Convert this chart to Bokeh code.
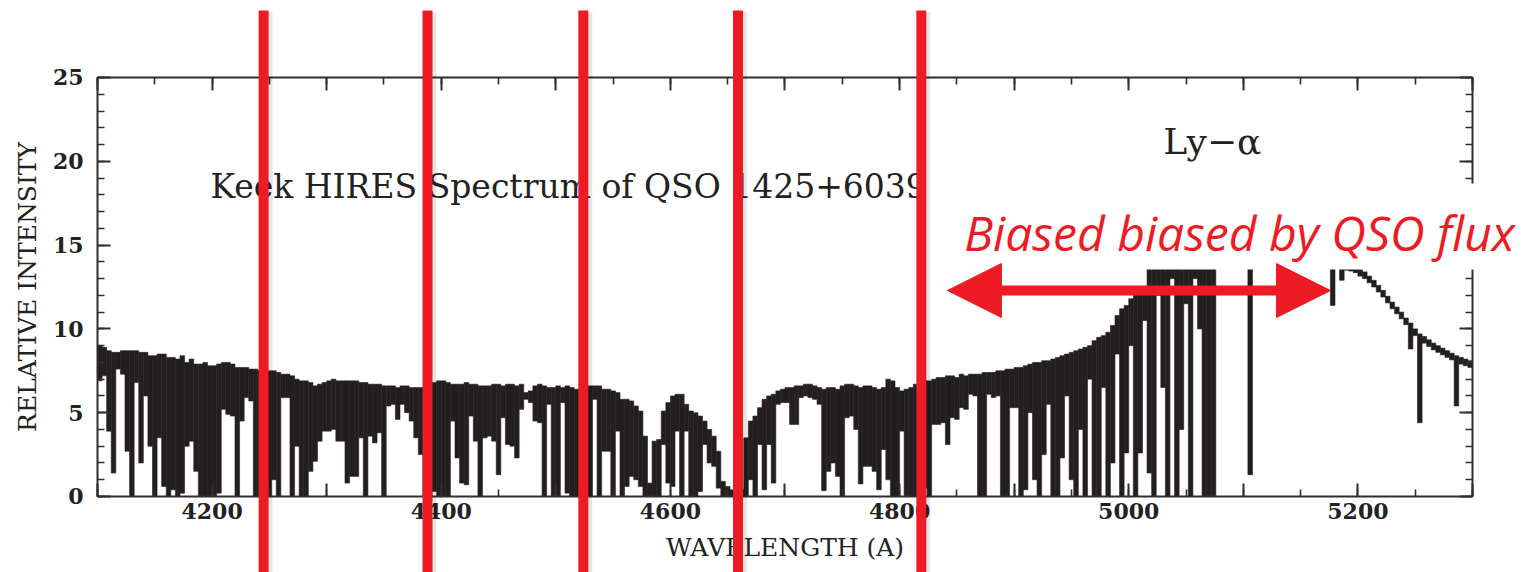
import numpy as np
from bokeh.plotting import figure
from bokeh.models import (Range1d, LinearAxis, FixedTicker, Label, Arrow,
                          NormalHead, BoxAnnotation, ColumnDataSource)
from bokeh.embed import file_html
from bokeh.resources import INLINE

# ---- spectrum: min / max relative intensity in 4 A bins from 4100 A ----
WL_START = 4100
BIN_WIDTH = 4

flux_hi = [
    9.0, 8.9, 8.7, 8.6, 8.6, 8.7, 8.7, 8.7, 8.7, 8.6, 8.6, 8.4, 8.4, 8.5, 8.5, 8.3, 8.3, 8.2, 8.4, 8.0, 8.2, 7.9, 7.9, 8.0, 7.8,
    7.8, 7.9, 8.0, 8.0, 7.9, 7.7, 7.7, 7.7, 7.6, 7.6, 7.5, 7.5, 7.5, 7.5, 7.4, 7.3, 7.3, 7.2, 7.0, 6.9, 6.9, 6.8, 6.6, 6.7, 6.8,
    6.9, 7.0, 6.9, 6.9, 6.9, 6.9, 6.9, 6.8, 6.8, 6.7, 6.7, 6.7, 6.6, 6.6, 6.6, 6.5, 6.6, 6.6, 6.5, 6.5, 6.5, 6.5, 6.6, 6.8, 6.9,
    6.9, 6.8, 6.7, 6.7, 6.7, 6.8, 6.7, 6.7, 6.6, 6.6, 6.6, 6.7, 6.7, 6.6, 6.7, 6.7, 6.6, 6.7, 6.2, 6.3, 6.6, 6.7, 6.6, 6.5, 6.5,
    6.6, 6.5, 6.6, 6.5, 6.4, 6.4, 6.5, 6.6, 6.6, 6.6, 6.4, 6.4, 6.3, 6.2, 5.8, 5.8, 5.7, 5.4, 5.1, 3.6, 0.8, 3.3, 3.4, 5.1, 5.6,
    6.0, 6.1, 6.1, 5.5, 5.1, 5.0, 4.8, 4.5, 4.0, 3.6, 2.7, 0.9, 0.6, 0.4, 0.3, 0.4, 3.5, 4.5, 4.8, 5.3, 5.8, 6.0, 6.1, 6.3, 6.4,
    6.5, 6.5, 6.6, 6.6, 6.7, 6.7, 6.6, 6.5, 6.4, 6.5, 6.5, 6.4, 6.6, 6.7, 6.7, 6.6, 6.5, 6.6, 6.6, 6.5, 6.4, 6.5, 7.0, 6.9, 6.5,
    6.3, 6.4, 6.5, 6.7, 6.8, 6.9, 6.9, 7.0, 7.1, 7.1, 7.2, 7.2, 7.1, 7.3, 7.2, 7.3, 7.3, 7.3, 7.4, 7.4, 7.4, 7.5, 7.5, 7.6, 7.6,
    7.7, 7.7, 7.8, 7.9, 8.0, 8.0, 8.1, 8.1, 8.2, 8.3, 8.4, 8.5, 8.6, 8.7, 8.8, 8.9, 9.0, 9.3, 9.5, 9.6, 9.8, 10.2, 10.8, 11.2, 11.4,
    11.8, 12.0, 12.2, 12.3, 13.9, 14.6, 15.0, 15.4, 15.8, 16.2, 16.5, 16.8, 17.0, 17.2, 17.3, 17.4, 17.4, 17.5, 17.4, 17.4, 17.3, 17.2, 17.1, 17.0, 16.9,
    16.8, 16.7, 16.6, 16.5, 16.4, 16.2, 16.0, 15.9, 15.7, 15.5, 15.3, 15.1, 14.9, 14.7, 14.6, 14.5, 14.4, 14.3, 14.2, 14.1, 14.0, 13.9, 13.85, 13.75, 13.65,
    13.55, 13.4, 13.15, 12.9, 12.6, 12.3, 11.95, 11.6, 11.3, 11.0, 10.65, 10.35, 10.0, 9.7, 9.55, 9.35, 9.15, 9.0, 8.85, 8.7, 8.55, 8.4, 8.3, 8.2, 8.1,
]

flux_lo = [
    6.9, 7.2, 3.9, 1.4, 7.6, 7.3, 2.7, 0.0, 6.8, 2.0, 6.0, 3.0, 0.0, 3.5, 0.6, 0.0, 0.4, 0.0, 0.2, 3.0, 3.3, 1.5, 0.0, 0.0, 0.0,
    0.0, 0.2, 5.2, 4.9, 4.8, 0.0, 4.5, 5.9, 5.7, 0.0, 0.0, 0.5, 0.0, 1.0, 0.0, 5.9, 5.9, 0.0, 3.0, 0.0, 0.0, 1.5, 2.1, 3.3, 3.9,
    3.9, 4.0, 3.3, 3.3, 0.8, 1.2, 1.2, 3.5, 0.0, 3.6, 3.2, 3.8, 0.0, 5.4, 5.5, 4.6, 5.5, 5.0, 4.5, 3.5, 2.5, 0.0, 0.0, 0.3, 0.0,
    0.0, 0.0, 4.5, 2.3, 0.8, 0.7, 4.8, 3.3, 0.0, 3.5, 3.6, 3.3, 1.3, 4.7, 3.1, 3.0, 2.3, 5.2, 5.8, 5.6, 4.5, 4.4, 0.0, 5.5, 0.0,
    0.0, 5.6, 0.2, 0.0, 0.0, 0.0, 0.0, 0.0, 5.8, 0.0, 2.7, 2.7, 0.0, 3.9, 0.0, 0.6, 1.2, 1.0, 0.6, 0.0, 0.0, 0.0, 0.0, 3.1, 0.8,
    0.6, 3.9, 0.0, 3.9, 0.0, 0.0, 0.3, 3.1, 2.0, 1.8, 0.5, 0.0, 0.0, 0.0, 0.0, 0.0, 0.0, 1.0, 0.0, 3.1, 0.4, 3.1, 0.8, 5.5, 5.6,
    5.6, 4.3, 4.3, 5.9, 6.0, 5.9, 5.8, 5.5, 0.35, 1.5, 2.0, 1.2, 0.0, 4.7, 4.8, 4.0, 0.75, 1.8, 1.8, 1.5, 0.4, 2.8, 1.0, 0.0, 0.0,
    3.9, 0.0, 0.0, 0.0, 0.0, 0.5, 0.0, 4.3, 4.3, 4.4, 3.1, 4.7, 4.6, 5.3, 5.2, 6.1, 6.0, 0.0, 0.0, 6.1, 5.9, 6.0, 0.0, 0.0, 5.3,
    5.3, 0.0, 0.4, 5.0, 1.0, 0.0, 2.5, 5.5, 0.0, 0.0, 2.3, 6.0, 1.0, 0.0, 4.0, 0.0, 7.0, 0.0, 0.0, 6.5, 0.0, 2.0, 8.5, 0.0, 2.6,
    9.0, 0.0, 2.6, 10.5, 1.4, 0.0, 12.0, 6.5, 0.0, 13.0, 0.0, 4.0, 11.5, 0.0, 13.0, 10.0, 0.0, 0.0, 0.0, 14.0, 14.5, 15.0, 15.0, 14.6, 14.3,
    14.0, 1.3, 14.2, 14.2, 14.4, 14.3, 14.1, 14.0, 14.2, 14.1, 14.0, 14.2, 14.0, 14.0, 13.9, 13.8, 13.8, 13.8, 13.8, 11.4, 13.7, 12.9, 13.5, 13.45, 13.35,
    13.15, 13.0, 12.75, 12.5, 12.2, 11.9, 11.55, 11.2, 10.9, 10.6, 10.25, 8.8, 9.6, 4.4, 9.15, 8.95, 8.75, 8.6, 8.45, 8.3, 8.15, 5.4, 7.9, 7.8, 7.7,
]

# axis ticks
x_major_ticks = list(range(4100, 5301, 100))
x_minor_ticks = list(range(4100, 5301, 50))
x_tick_labels = {4200: "4200", 4400: "4400", 4600: "4600", 4800: "4800", 5000: "5000", 5200: "5200"}
y_major_ticks = [0, 5, 10, 15, 20, 25]
y_minor_ticks = list(range(0, 26))

# wavelengths of the marked absorption systems
marker_wavelengths = [4245, 4388, 4524, 4659, 4819]

# annotation texts
title_text = "Keek HIRES Spectrum of QSO 1425+6039"
line_text = "Ly\u2212\u03b1"
note_text = "Biased biased by QSO flux"

RED = "#ed1c24"
INK = "#231f20"
AXIS = "#2e2e2e"
SERIF = "DejaVu Serif"

wl_left = WL_START + BIN_WIDTH * np.arange(len(flux_hi))
src = ColumnDataSource(dict(left=wl_left, right=wl_left + BIN_WIDTH,
                            top=flux_hi, bottom=flux_lo))

p = figure(width=1524, height=572,
           x_range=Range1d(4015.35, 5345.4), y_range=Range1d(-4.535, 29.594),
           x_axis_type=None, y_axis_type=None,
           output_backend="svg", toolbar_location=None, min_border=0)
p.outline_line_color = None
p.background_fill_color = "white"
p.border_fill_color = "white"

p.quad(left="left", right="right", top="top", bottom="bottom", source=src,
       fill_color=INK, line_color=INK, line_width=0.6)


def style_axis(ax, labels=True):
    ax.axis_line_color = AXIS
    ax.axis_line_width = 2
    ax.major_tick_line_color = AXIS
    ax.major_tick_line_width = 2
    ax.minor_tick_line_color = AXIS
    ax.minor_tick_line_width = 1.6
    ax.major_tick_in = 13
    ax.major_tick_out = 0
    ax.minor_tick_in = 7
    ax.minor_tick_out = 0
    ax.major_label_text_font = SERIF
    ax.major_label_text_font_size = "22px"
    ax.major_label_text_font_style = "bold"
    ax.major_label_text_color = "#222222" if labels else None
    ax.axis_label_text_font = SERIF
    ax.axis_label_text_font_style = "normal"
    ax.axis_label_text_font_size = "25px"
    ax.axis_label_text_color = "#222222"


xb = LinearAxis(fixed_location=0, bounds=(4100, 5300),
                ticker=FixedTicker(ticks=x_major_ticks, minor_ticks=x_minor_ticks),
                axis_label="WAVELENGTH (A)")
style_axis(xb)
xb.major_label_overrides = {t: x_tick_labels.get(t, "") for t in x_major_ticks}
xb.major_label_standoff = 7
xb.axis_label_standoff = 10
p.add_layout(xb, "below")

xt = LinearAxis(fixed_location=25, bounds=(4100, 5300),
                ticker=FixedTicker(ticks=x_major_ticks, minor_ticks=x_minor_ticks))
style_axis(xt, labels=False)
xt.major_label_overrides = {t: "" for t in x_major_ticks}
p.add_layout(xt, "above")

yl = LinearAxis(fixed_location=4100, bounds=(0, 25),
                ticker=FixedTicker(ticks=y_major_ticks, minor_ticks=y_minor_ticks),
                axis_label="RELATIVE INTENSITY")
style_axis(yl)
yl.major_label_standoff = 14
yl.axis_label_standoff = 8
p.add_layout(yl, "left")

yr = LinearAxis(fixed_location=5300, bounds=(0, 25),
                ticker=FixedTicker(ticks=y_major_ticks, minor_ticks=y_minor_ticks))
style_axis(yr, labels=False)
yr.major_label_overrides = {t: "" for t in y_major_ticks}
p.add_layout(yr, "right")

# plot texts
p.add_layout(Label(x=4198.6, y=18.5, text=title_text, text_font=SERIF,
                   text_font_size="33px", text_baseline="middle",
                   text_color="#222222"))
p.add_layout(Label(x=5073, y=21.2, text=line_text, text_font=SERIF,
                   text_font_size="36px", text_align="center",
                   text_baseline="middle", text_color="#222222"))

# white panel behind the note
p.add_layout(BoxAnnotation(left=4830.5, right=5360, bottom=13.54, top=18.68,
                           fill_color="white", fill_alpha=1.0,
                           line_color=None, level="annotation"))
p.add_layout(Label(x=4856.5, y=15.75, text=note_text, text_font="Open Sans",
                   text_font_style="italic", text_font_size="48px",
                   text_baseline="middle", text_color=RED, level="annotation"))

# red markers with a faint drop shadow
n = len(marker_wavelengths)
shadow_x = [w + 2.6 for w in marker_wavelengths]
p.segment(x0=shadow_x, y0=[28.9] * n, x1=shadow_x, y1=[-5.0] * n,
          line_color="#000000", line_alpha=0.10, line_width=12, level="overlay")
p.segment(x0=marker_wavelengths, y0=[29.0] * n, x1=marker_wavelengths, y1=[-5.0] * n,
          line_color=RED, line_width=10, level="overlay")

p.add_layout(Arrow(start=NormalHead(size=54, fill_color=RED, line_color=RED),
                   end=NormalHead(size=54, fill_color=RED, line_color=RED),
                   x_start=4841.8, y_start=12.29, x_end=5176.1, y_end=12.29,
                   line_color=RED, line_width=10, level="overlay"))

open("out.html", "w").write(file_html(p, INLINE))
